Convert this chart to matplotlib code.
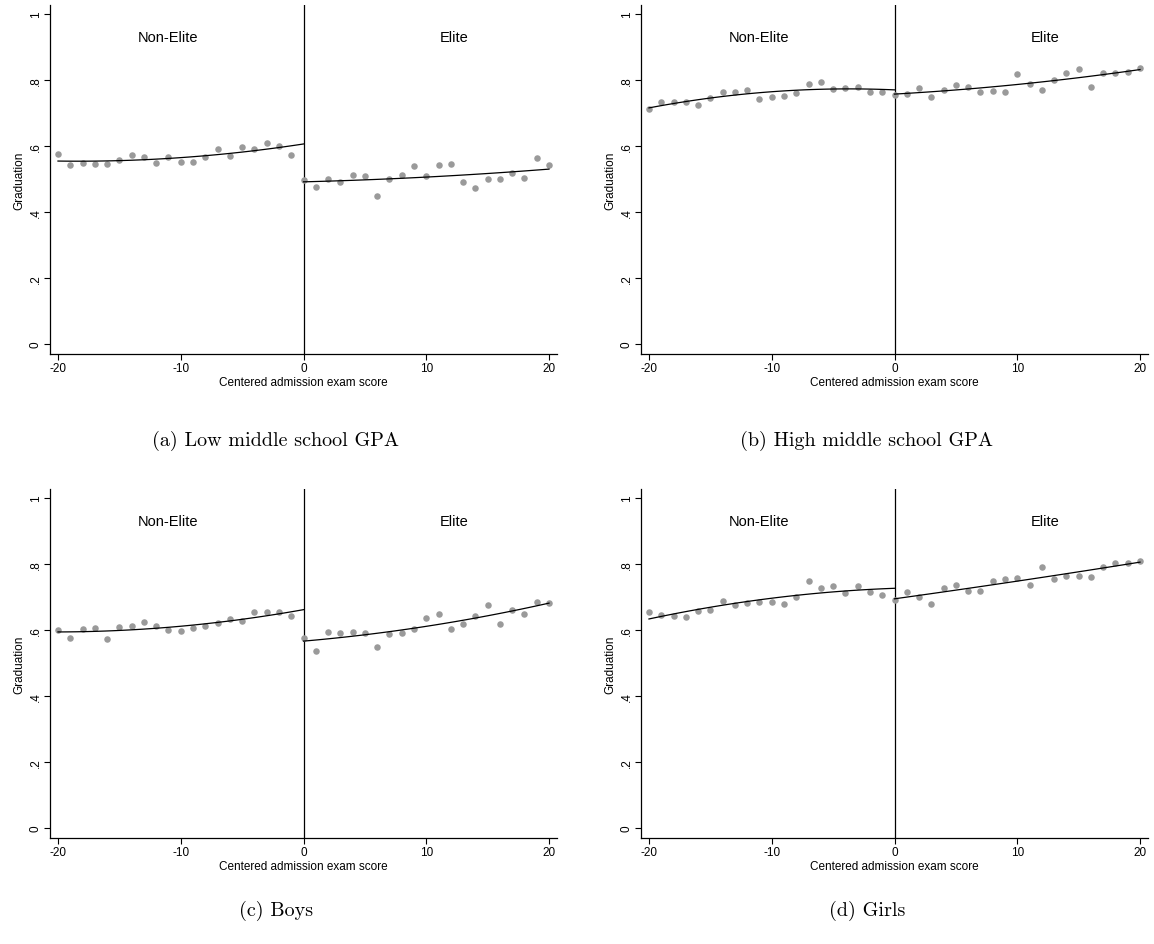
import numpy as np
import matplotlib
matplotlib.use('Agg')
import matplotlib.pyplot as plt

plt.rcParams['font.family'] = ['Liberation Sans', 'DejaVu Sans']
plt.rcParams['axes.unicode_minus'] = False

x_left = list(range(-20, 0))
x_right = list(range(0, 21))

# binned graduation means, left of cutoff (-20..-1) and right (0..20)
low_gpa_left = [0.576, 0.541, 0.549, 0.545, 0.545, 0.559, 0.574, 0.567, 0.548, 0.568,
                0.553, 0.551, 0.566, 0.591, 0.570, 0.596, 0.590, 0.609, 0.601, 0.574]
low_gpa_right = [0.496, 0.475, 0.499, 0.492, 0.511, 0.509, 0.448, 0.499, 0.511, 0.539,
                 0.508, 0.541, 0.544, 0.492, 0.472, 0.499, 0.499, 0.519, 0.502, 0.564, 0.541]

high_gpa_left = [0.711, 0.732, 0.732, 0.732, 0.725, 0.745, 0.764, 0.762, 0.770, 0.742,
                 0.749, 0.750, 0.761, 0.788, 0.794, 0.773, 0.777, 0.780, 0.763, 0.764]
high_gpa_right = [0.755, 0.756, 0.776, 0.749, 0.770, 0.784, 0.780, 0.763, 0.767, 0.764,
                  0.819, 0.789, 0.771, 0.799, 0.822, 0.832, 0.780, 0.820, 0.820, 0.823, 0.835]

boys_left = [0.601, 0.575, 0.602, 0.605, 0.574, 0.609, 0.611, 0.623, 0.612, 0.600,
             0.596, 0.605, 0.611, 0.620, 0.632, 0.626, 0.653, 0.653, 0.653, 0.643]
boys_right = [0.577, 0.536, 0.593, 0.592, 0.594, 0.592, 0.547, 0.588, 0.592, 0.602,
              0.635, 0.649, 0.602, 0.619, 0.641, 0.675, 0.619, 0.662, 0.648, 0.686, 0.682]

girls_left = [0.653, 0.644, 0.643, 0.638, 0.659, 0.662, 0.689, 0.677, 0.681, 0.686,
              0.686, 0.679, 0.701, 0.747, 0.726, 0.734, 0.712, 0.732, 0.714, 0.705]
girls_right = [0.692, 0.716, 0.700, 0.678, 0.727, 0.736, 0.717, 0.719, 0.747, 0.755,
               0.758, 0.737, 0.791, 0.754, 0.765, 0.765, 0.761, 0.790, 0.804, 0.802, 0.809]

captions = ['(a) Low middle school GPA', '(b) High middle school GPA',
            '(c) Boys', '(d) Girls']
panels = [(low_gpa_left, low_gpa_right), (high_gpa_left, high_gpa_right),
          (boys_left, boys_right), (girls_left, girls_right)]

W, H = 1154, 945
fig = plt.figure(figsize=(W / 100, H / 100), dpi=100)

# axes boxes in pixels: left, top, right, bottom
boxes = [(50, 6, 557, 355), (641, 6, 1148, 355),
         (50, 490, 557, 839), (641, 490, 1148, 839)]
cap_pos = [(276, 441), (867, 441), (276, 911), (867, 911)]

for (yl, yr), box, cap, cp in zip(panels, boxes, captions, cap_pos):
    l, t, r, b = box
    ax = fig.add_axes([l / W, 1 - b / H, (r - l) / W, (b - t) / H])
    ax.scatter(x_left, yl, s=22, color='#9a9a9a', linewidths=0, zorder=2)
    ax.scatter(x_right, yr, s=22, color='#9a9a9a', linewidths=0, zorder=2)

    pl = np.polyfit(x_left, yl, 2)
    pr = np.polyfit(x_right, yr, 2)
    gl = np.linspace(-20, 0, 100)
    gr = np.linspace(0, 20, 100)
    ax.plot(gl, np.polyval(pl, gl), color='black', lw=0.9, zorder=3)
    ax.plot(gr, np.polyval(pr, gr), color='black', lw=0.9, zorder=3)

    ax.axvline(0, color='black', lw=0.9, zorder=1)
    ax.text(-11, 0.93, 'Non-Elite', ha='center', va='center', fontsize=10.5)
    ax.text(12.3, 0.93, 'Elite', ha='center', va='center', fontsize=10.5)

    ax.set_xlim(-20.65, 20.65)
    ax.set_ylim(-0.03, 1.027)
    ax.set_xticks([-20, -10, 0, 10, 20])
    ax.set_xticklabels(['-20', '-10', '0', '10', '20'])
    ax.set_yticks([0, 0.2, 0.4, 0.6, 0.8, 1])
    ax.set_yticklabels(['0', '.2', '.4', '.6', '.8', '1'], rotation=90, va='center')
    ax.tick_params(labelsize=8.5, length=4, width=0.8, pad=2)
    ax.spines['top'].set_visible(False)
    ax.spines['right'].set_visible(False)
    for s in ['left', 'bottom']:
        ax.spines[s].set_linewidth(0.9)
    ax.set_xlabel('Centered admission exam score', fontsize=8.5, labelpad=1)
    ax.set_ylabel('Graduation', fontsize=8.5, labelpad=3)

    fig.text(cp[0] / W, 1 - cp[1] / H, cap, ha='center', va='center',
             family='cmr10', fontsize=14.5)

plt.savefig('out.png', dpi=100)
